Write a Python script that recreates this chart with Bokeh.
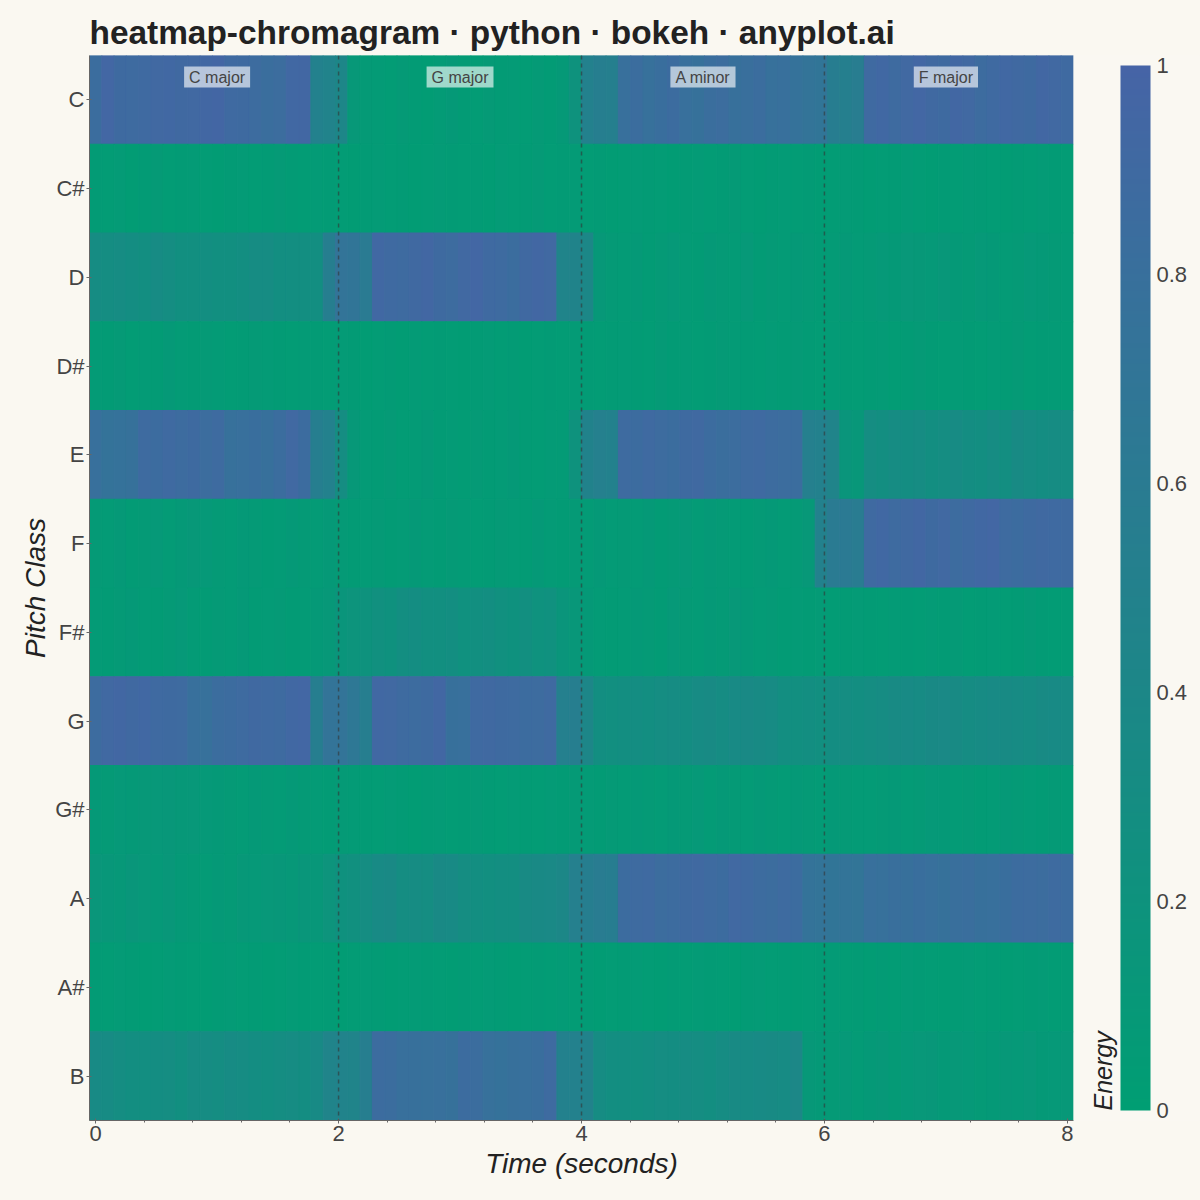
import numpy as np
from bokeh.plotting import figure
from bokeh.models import (ColumnDataSource, LinearColorMapper, ColorBar, FactorRange,
                          Range1d, Span, Label, BasicTicker)
from bokeh.transform import transform
from bokeh.embed import file_html
from bokeh.resources import INLINE

# ---------------- data ----------------
pitch_classes = ["C", "C#", "D", "D#", "E", "F", "F#", "G", "G#", "A", "A#", "B"]
chord_names = ["C major", "G major", "A minor", "F major"]
chord_centers = [1, 3, 5, 7]
chord_boundaries = [2, 4, 6]
duration = 8.0
n_frames = 80

energy_C = [0.84, 0.95, 0.89, 0.88, 0.90, 0.92, 0.93, 0.91, 0.92, 0.94, 0.96, 0.90, 0.89, 0.87, 0.83, 0.85, 0.93, 0.94,
            0.50, 0.47, 0.42, 0.10, 0.07,
            0.06, 0.04, 0.07, 0.05, 0.03, 0.06, 0.08, 0.05, 0.04, 0.07, 0.05, 0.06, 0.04, 0.07, 0.05,
            0.08, 0.20, 0.50, 0.55, 0.53,
            0.80, 0.84, 0.78, 0.82, 0.86, 0.80, 0.77, 0.83, 0.85, 0.79, 0.81, 0.84, 0.78, 0.80, 0.76,
            0.72, 0.70, 0.56, 0.53, 0.57,
            0.90, 0.93, 0.88, 0.92, 0.95, 0.91, 0.89, 0.94, 0.92, 0.87, 0.90, 0.93, 0.91, 0.89, 0.94, 0.92, 0.90]
energy_Cs = [0.05, 0.04, 0.06, 0.03, 0.05, 0.07, 0.04, 0.05, 0.06, 0.04, 0.03, 0.05, 0.06, 0.04, 0.05, 0.07, 0.05, 0.04,
             0.06, 0.05, 0.04, 0.03, 0.05,
             0.06, 0.04, 0.05, 0.03, 0.04, 0.06, 0.05, 0.04, 0.05, 0.03, 0.06, 0.04, 0.05, 0.07, 0.04,
             0.05, 0.06, 0.04, 0.05, 0.03,
             0.04, 0.06, 0.05, 0.04, 0.03, 0.05, 0.06, 0.04, 0.05, 0.07, 0.04, 0.03, 0.05, 0.06, 0.04,
             0.05, 0.03, 0.04, 0.06, 0.05,
             0.03, 0.04, 0.05, 0.06, 0.04, 0.03, 0.05, 0.04, 0.06, 0.05, 0.04, 0.03, 0.05, 0.04, 0.06, 0.05, 0.04]
energy_D = [0.32, 0.30, 0.31, 0.29, 0.27, 0.33, 0.30, 0.25, 0.26, 0.27, 0.25, 0.26, 0.28, 0.32, 0.31, 0.27, 0.28, 0.27,
            0.28, 0.55, 0.72, 0.70, 0.60,
            0.93, 0.90, 0.88, 0.91, 0.94, 0.89, 0.87, 0.92, 0.95, 0.90, 0.88, 0.84, 0.91, 0.94, 0.92,
            0.45, 0.46, 0.40, 0.10, 0.07,
            0.06, 0.08, 0.05, 0.07, 0.09, 0.06, 0.05, 0.08, 0.07, 0.06, 0.09, 0.05, 0.07, 0.06, 0.08,
            0.07, 0.05, 0.06, 0.08, 0.06,
            0.07, 0.09, 0.08, 0.11, 0.10, 0.09, 0.12, 0.08, 0.07, 0.09, 0.08, 0.06, 0.07, 0.09, 0.08, 0.07, 0.06]
energy_Ds = [0.06, 0.05, 0.07, 0.04, 0.06, 0.05, 0.08, 0.06, 0.05, 0.07, 0.06, 0.04, 0.05, 0.07, 0.06, 0.05, 0.04, 0.06,
             0.05, 0.04, 0.06, 0.05, 0.03,
             0.04, 0.05, 0.03, 0.06, 0.04, 0.05, 0.04, 0.03, 0.05, 0.06, 0.04, 0.05, 0.03, 0.04, 0.05,
             0.04, 0.06, 0.05, 0.04, 0.05,
             0.06, 0.05, 0.04, 0.07, 0.05, 0.06, 0.04, 0.05, 0.07, 0.06, 0.05, 0.04, 0.06, 0.05, 0.07,
             0.05, 0.04, 0.06, 0.05, 0.04,
             0.05, 0.06, 0.04, 0.05, 0.07, 0.05, 0.04, 0.06, 0.05, 0.04, 0.06, 0.05, 0.07, 0.04, 0.05, 0.06, 0.04]
energy_E = [0.80, 0.74, 0.76, 0.77, 0.88, 0.86, 0.90, 0.87, 0.89, 0.85, 0.88, 0.78, 0.80, 0.82, 0.79, 0.84, 0.92, 0.86,
            0.55, 0.50, 0.30, 0.10, 0.06,
            0.05, 0.07, 0.04, 0.06, 0.08, 0.05, 0.06, 0.04, 0.07, 0.05, 0.06, 0.08, 0.05, 0.04, 0.06,
            0.06, 0.20, 0.48, 0.52, 0.50,
            0.88, 0.86, 0.90, 0.87, 0.84, 0.89, 0.91, 0.86, 0.83, 0.85, 0.88, 0.90, 0.87, 0.85, 0.84,
            0.52, 0.50, 0.45, 0.15, 0.12,
            0.30, 0.28, 0.32, 0.29, 0.31, 0.27, 0.30, 0.33, 0.29, 0.28, 0.31, 0.27, 0.34, 0.32, 0.29, 0.31, 0.30]
energy_F = [0.07, 0.06, 0.08, 0.05, 0.07, 0.09, 0.06, 0.08, 0.10, 0.09, 0.07, 0.06, 0.08, 0.07, 0.05, 0.06, 0.08, 0.07,
            0.06, 0.08, 0.07, 0.05, 0.06,
            0.07, 0.05, 0.06, 0.08, 0.06, 0.05, 0.07, 0.06, 0.04, 0.05, 0.07, 0.06, 0.05, 0.08, 0.06,
            0.05, 0.07, 0.06, 0.08, 0.06,
            0.07, 0.06, 0.08, 0.05, 0.07, 0.09, 0.06, 0.08, 0.07, 0.06, 0.05, 0.07, 0.08, 0.06, 0.07,
            0.10, 0.50, 0.60, 0.62, 0.58,
            0.90, 0.93, 0.88, 0.91, 0.94, 0.89, 0.92, 0.87, 0.90, 0.93, 0.95, 0.88, 0.86, 0.89, 0.91, 0.90, 0.89]
energy_Fs = [0.06, 0.05, 0.07, 0.08, 0.06, 0.05, 0.07, 0.09, 0.06, 0.05, 0.07, 0.06, 0.08, 0.05, 0.06, 0.07, 0.05, 0.06,
             0.08, 0.10, 0.15, 0.18, 0.20,
             0.24, 0.22, 0.27, 0.29, 0.26, 0.25, 0.28, 0.23, 0.26, 0.27, 0.24, 0.22, 0.25, 0.21, 0.23,
             0.15, 0.12, 0.08, 0.06, 0.05,
             0.06, 0.08, 0.07, 0.05, 0.09, 0.07, 0.06, 0.08, 0.07, 0.10, 0.08, 0.06, 0.07, 0.05, 0.06,
             0.05, 0.06, 0.04, 0.05, 0.06,
             0.05, 0.04, 0.06, 0.05, 0.04, 0.06, 0.05, 0.07, 0.04, 0.05, 0.06, 0.04, 0.05, 0.07, 0.05, 0.04, 0.05]
energy_G = [0.87, 0.92, 0.94, 0.91, 0.93, 0.90, 0.89, 0.88, 0.80, 0.78, 0.84, 0.86, 0.88, 0.91, 0.90, 0.88, 0.93, 0.95,
            0.55, 0.72, 0.72, 0.66, 0.55,
            0.93, 0.92, 0.88, 0.87, 0.89, 0.94, 0.79, 0.80, 0.90, 0.91, 0.89, 0.88, 0.86, 0.87, 0.90,
            0.52, 0.55, 0.42, 0.28, 0.25,
            0.27, 0.29, 0.28, 0.30, 0.31, 0.29, 0.33, 0.34, 0.32, 0.35, 0.36, 0.34, 0.33, 0.28, 0.26,
            0.27, 0.26, 0.29, 0.30, 0.28,
            0.30, 0.32, 0.34, 0.35, 0.33, 0.36, 0.37, 0.34, 0.32, 0.33, 0.35, 0.34, 0.33, 0.31, 0.34, 0.35, 0.33]
energy_Gs = [0.08, 0.07, 0.09, 0.08, 0.10, 0.11, 0.12, 0.10, 0.11, 0.09, 0.08, 0.07, 0.06, 0.08, 0.07, 0.06, 0.08, 0.07,
             0.06, 0.05, 0.07, 0.06, 0.05,
             0.04, 0.06, 0.05, 0.03, 0.05, 0.06, 0.04, 0.05, 0.07, 0.05, 0.04, 0.06, 0.05, 0.04, 0.06,
             0.05, 0.07, 0.06, 0.05, 0.07,
             0.06, 0.08, 0.07, 0.06, 0.08, 0.07, 0.09, 0.06, 0.08, 0.07, 0.06, 0.08, 0.07, 0.06, 0.08,
             0.07, 0.06, 0.08, 0.07, 0.06,
             0.06, 0.07, 0.08, 0.06, 0.07, 0.09, 0.08, 0.06, 0.07, 0.05, 0.06, 0.08, 0.07, 0.06, 0.05, 0.07, 0.06]
energy_A = [0.14, 0.12, 0.10, 0.13, 0.11, 0.09, 0.12, 0.08, 0.07, 0.06, 0.08, 0.07, 0.10, 0.09, 0.11, 0.12, 0.10, 0.13,
            0.12, 0.18, 0.22, 0.24, 0.30,
            0.35, 0.36, 0.30, 0.31, 0.30, 0.36, 0.35, 0.30, 0.27, 0.26, 0.28, 0.27, 0.34, 0.36, 0.37,
            0.40, 0.52, 0.55, 0.58, 0.56,
            0.86, 0.88, 0.90, 0.85, 0.87, 0.89, 0.91, 0.88, 0.86, 0.92, 0.90, 0.87, 0.85, 0.88, 0.86,
            0.74, 0.72, 0.70, 0.73, 0.71,
            0.80, 0.78, 0.81, 0.79, 0.82, 0.80, 0.77, 0.81, 0.83, 0.79, 0.80, 0.82, 0.86, 0.87, 0.85, 0.88, 0.86]
energy_As = [0.05, 0.04, 0.06, 0.05, 0.03, 0.04, 0.06, 0.05, 0.04, 0.03, 0.05, 0.06, 0.04, 0.05, 0.03, 0.04, 0.06, 0.05,
             0.04, 0.05, 0.03, 0.04, 0.06,
             0.05, 0.03, 0.04, 0.06, 0.05, 0.04, 0.03, 0.05, 0.04, 0.06, 0.05, 0.03, 0.04, 0.05, 0.04,
             0.06, 0.04, 0.05, 0.03, 0.04,
             0.05, 0.06, 0.04, 0.03, 0.05, 0.04, 0.06, 0.05, 0.04, 0.03, 0.05, 0.06, 0.04, 0.05, 0.03,
             0.04, 0.05, 0.06, 0.04, 0.05,
             0.03, 0.05, 0.04, 0.06, 0.05, 0.04, 0.03, 0.05, 0.06, 0.04, 0.05, 0.03, 0.04, 0.05, 0.06, 0.04, 0.05]
energy_B = [0.35, 0.33, 0.30, 0.28, 0.27, 0.29, 0.30, 0.26, 0.31, 0.32, 0.30, 0.33, 0.31, 0.29, 0.27, 0.30, 0.32, 0.29,
            0.35, 0.45, 0.47, 0.45, 0.55,
            0.86, 0.84, 0.80, 0.79, 0.78, 0.80, 0.77, 0.86, 0.84, 0.78, 0.76, 0.79, 0.80, 0.82, 0.88,
            0.50, 0.50, 0.48, 0.32, 0.28,
            0.27, 0.26, 0.28, 0.30, 0.29, 0.31, 0.30, 0.28, 0.32, 0.34, 0.33, 0.35, 0.34, 0.33, 0.40,
            0.10, 0.08, 0.07, 0.09, 0.06,
            0.08, 0.10, 0.07, 0.09, 0.11, 0.12, 0.08, 0.10, 0.09, 0.07, 0.08, 0.10, 0.09, 0.11, 0.08, 0.09, 0.10]

chroma = [energy_C, energy_Cs, energy_D, energy_Ds, energy_E, energy_F,
          energy_Fs, energy_G, energy_Gs, energy_A, energy_As, energy_B]

# ---------------- build table ----------------
times = np.linspace(0.0, duration, n_frames)
step = times[1] - times[0]
xs, ys, vs = [], [], []
for name, row in zip(pitch_classes, chroma):
    for t, v in zip(times, row):
        xs.append(float(t))
        ys.append(name)
        vs.append(v)
source = ColumnDataSource(dict(time=xs, pitch=ys, energy=vs))

GREEN = (0, 158, 115)
BLUE = (70, 100, 166)
palette = ["#%02x%02x%02x" % tuple(int(round(g + (b - g) * i / 255.0)) for g, b in zip(GREEN, BLUE))
           for i in range(256)]
mapper = LinearColorMapper(palette=palette, low=0, high=1)

BG = "#FAF8F1"
TEXT = "#444444"

p = figure(width=1200, height=1200,
           x_range=Range1d(-step / 2, duration + step / 2),
           y_range=FactorRange(factors=list(reversed(pitch_classes))),
           title="heatmap-chromagram · python · bokeh · anyplot.ai",
           output_backend="svg", toolbar_location=None,
           min_border_left=89, min_border_right=127, min_border_top=55, min_border_bottom=80)

p.rect(x="time", y="pitch", width=step, height=1.0, source=source,
       fill_color=transform("energy", mapper), line_color=transform("energy", mapper), line_width=1)

for b in chord_boundaries:
    p.add_layout(Span(location=b, dimension="height", line_color="#333333", line_alpha=0.6,
                      line_width=1.5, line_dash="4 4"))

for name, c in zip(chord_names, chord_centers):
    p.add_layout(Label(x=c, y=11.876, text=name, text_align="center", text_baseline="top",
                       text_font_size="16px", text_color=TEXT, padding=(5, 2),
                       background_fill_color="white", background_fill_alpha=0.62))

cb = ColorBar(color_mapper=mapper, ticker=BasicTicker(desired_num_ticks=6), title="Energy",
              width=30, title_text_font_size="25px", title_text_font_style="italic",
              title_text_color="#222222", title_standoff=7, major_label_text_font_size="22px",
              major_label_text_color=TEXT, label_standoff=6, background_fill_color=BG,
              bar_line_color=None, major_tick_line_color=None)
p.add_layout(cb, "right")

p.background_fill_color = BG
p.border_fill_color = BG
p.outline_line_color = None
p.grid.grid_line_color = None

p.title.text_font_size = "33.4px"
p.title.text_font_style = "bold"
p.title.text_color = "#222222"

p.xaxis.axis_label = "Time (seconds)"
p.yaxis.axis_label = "Pitch Class"
for ax in (p.xaxis, p.yaxis):
    ax.axis_label_text_font_size = "28px"
    ax.axis_label_text_font_style = "italic"
    ax.axis_label_text_color = "#222222"
    ax.major_label_text_font_size = "22px"
    ax.major_label_text_color = TEXT
    ax.major_label_standoff = 2
    ax.major_tick_out = 3
    ax.minor_tick_out = 2
    ax.axis_line_color = "#666666"
    ax.major_tick_line_color = "#666666"
    ax.minor_tick_line_color = "#666666"
p.xaxis.axis_label_standoff = 4
p.yaxis.axis_label_standoff = 1

html = file_html(p, INLINE)
html = html.replace("<body>", '<body style="background-color:#FAF8F1;">')
open("out.html", "w").write(html)
